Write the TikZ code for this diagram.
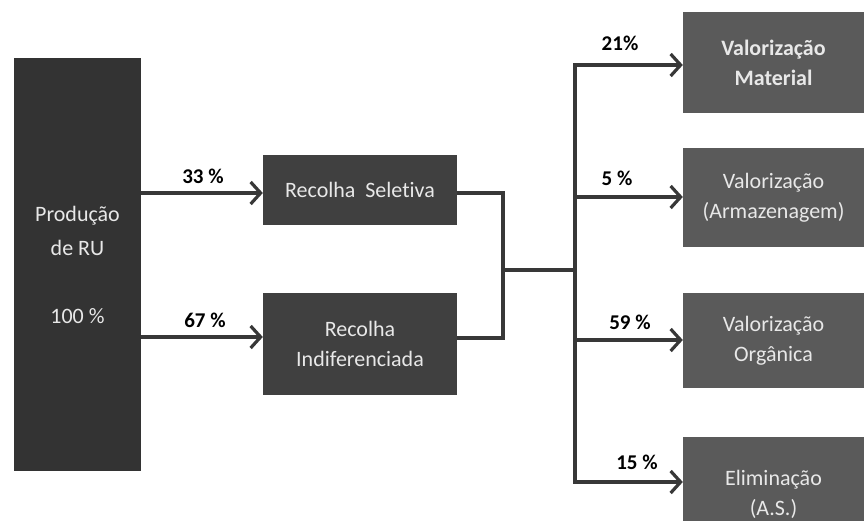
\documentclass[tikz,border=0pt]{standalone}
\usepackage{fontspec}
\setmainfont{Carlito}[Ligatures={NoCommon}]
\usetikzlibrary{arrows.meta}
\definecolor{dk}{HTML}{333333}
\definecolor{md}{HTML}{404040}
\definecolor{lt}{HTML}{5A5A5A}
\definecolor{tx}{HTML}{E8E8E8}
\definecolor{ln}{HTML}{383838}
\tikzset{
  boxbase/.style={rectangle, inner sep=0pt, align=center, text=tx,
    font=\fontsize{22}{30}\selectfont},
  leftbox/.style={boxbase, fill=dk, minimum width=127pt, minimum height=413pt,
    font=\fontsize{22}{34}\selectfont},
  midbox/.style={boxbase, fill=md, minimum width=194pt},
  rightbox/.style={boxbase, fill=lt, minimum width=181pt},
  pct/.style={font=\bfseries\fontsize{21}{24}\selectfont, text=black, inner sep=0pt},
  conn/.style={draw=ln, line width=3.2pt},
  arr/.style={conn, -{Straight Barb[length=10pt,width=22pt,line width=3.2pt]}}
}
\begin{document}
\begin{tikzpicture}[x=1pt,y=-1pt]
\useasboundingbox (0,0) rectangle (864,520);
\clip (0,0) rectangle (864,520);
\fill[white] (0,0) rectangle (864,520);

\node[leftbox] (prod) at (77.5,264.5) {Produção\\de RU\\[34pt]100 \%};
\node[midbox, minimum height=70pt] (sel) at (360,190) {Recolha\ \ Seletiva};
\node[midbox, minimum height=102pt] (ind) at (360,344) {Recolha\\Indiferenciada};

\node[rightbox, minimum height=101pt] (vm) at (773.5,62.5) {\bfseries Valorização\\\bfseries Material};
\node[rightbox, minimum height=99pt] (va) at (773.5,197.5) {Valorização\\(Armazenagem)};
\node[rightbox, minimum height=95pt] (vo) at (773.5,340.5) {Valorização\\Orgânica};
\node[rightbox, minimum height=114pt] (el) at (773.5,494) {Eliminação\\(A.S.)};

% left arrows
\coordinate (a1s) at (141,193);
\coordinate (a2s) at (141,337);
\draw[arr] (a1s) -- (a1s -| sel.west);
\draw[arr] (a2s) -- (a2s -| ind.west);
\node[pct] (p33) at (203,176) {33 \%};
\node[pct] (p67) at (205,320) {67 \%};

% merge
\coordinate (m1) at (457,193);
\coordinate (m2) at (457,338);
\coordinate (mv) at (503,270);
\coordinate (sp) at (575,270);
\draw[conn, line join=miter] (m1) -- (m1 -| mv) -- (m2 -| mv) -- (m2);
\draw[conn] (mv) -- (sp);

% split
\coordinate (s1) at (575,65);
\coordinate (s2) at (575,197);
\coordinate (s3) at (575,340);
\coordinate (s4) at (575,482);
\draw[conn] (575,63.4) -- (575,483.6);
\draw[arr] (s1) -- (s1 -| vm.west);
\draw[arr] (s2) -- (s2 -| va.west);
\draw[arr] (s3) -- (s3 -| vo.west);
\draw[arr] (s4) -- (s4 -| el.west);

\node[pct] (p21) at (620,43) {21\%};
\node[pct] (p5) at (617,178) {5 \%};
\node[pct] (p59) at (630,322) {59 \%};
\node[pct] (p15) at (637,462) {15 \%};
\end{tikzpicture}
\end{document}
